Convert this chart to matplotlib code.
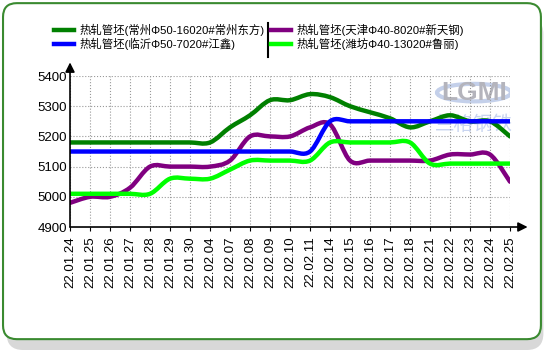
import matplotlib
matplotlib.use("Agg")
import matplotlib.pyplot as plt
from matplotlib.path import Path
from matplotlib.patches import PathPatch, FancyBboxPatch, Ellipse
from matplotlib.lines import Line2D

plt.rcParams['font.family'] = ['Liberation Sans', 'Noto Sans CJK SC', 'DejaVu Sans']

dates = ["22.01.24", "22.01.25", "22.01.26", "22.01.27", "22.01.28", "22.01.29",
         "22.01.30", "22.02.04", "22.02.07", "22.02.08", "22.02.09", "22.02.10",
         "22.02.11", "22.02.14", "22.02.15", "22.02.16", "22.02.17", "22.02.18",
         "22.02.21", "22.02.22", "22.02.23", "22.02.24", "22.02.25"]

changzhou = [5180, 5180, 5180, 5180, 5180, 5180, 5180, 5180, 5230, 5270, 5320, 5320,
             5340, 5330, 5300, 5280, 5260, 5230, 5250, 5270, 5250, 5250, 5200]
tianjin = [4980, 5000, 5000, 5030, 5100, 5100, 5100, 5100, 5120, 5200, 5200, 5200,
           5230, 5240, 5120, 5120, 5120, 5120, 5120, 5140, 5140, 5140, 5050]
linyi = [5150, 5150, 5150, 5150, 5150, 5150, 5150, 5150, 5150, 5150, 5150, 5150,
         5150, 5250, 5250, 5250, 5250, 5250, 5250, 5250, 5250, 5250, 5250]
weifang = [5010, 5010, 5010, 5010, 5010, 5060, 5060, 5060, 5090, 5120, 5120, 5120,
           5120, 5180, 5180, 5180, 5180, 5180, 5110, 5110, 5110, 5110, 5110]

labels = ["热轧管坯(常州Φ50-16020#常州东方)", "热轧管坯(临沂Φ50-7020#江鑫)",
          "热轧管坯(天津Φ40-8020#新天钢)", "热轧管坯(潍坊Φ40-13020#鲁丽)"]
colors = ["#008000", "#0000ff", "#800080", "#00ff00"]
yticks = [4900, 5000, 5100, 5200, 5300, 5400]


def smooth_path(ys):
    # catmull-rom through the points, drawn as cubic bezier segments
    n = len(ys)
    xs = list(range(n))
    verts = [(xs[0], ys[0])]
    codes = [Path.MOVETO]
    for i in range(n - 1):
        a = max(i - 1, 0)
        b = min(i + 2, n - 1)
        c1 = (xs[i] + (xs[i + 1] - xs[a]) / 6, ys[i] + (ys[i + 1] - ys[a]) / 6)
        c2 = (xs[i + 1] - (xs[b] - xs[i]) / 6, ys[i + 1] - (ys[b] - ys[i]) / 6)
        verts += [c1, c2, (xs[i + 1], ys[i + 1])]
        codes += [Path.CURVE4] * 3
    return Path(verts, codes)


fig = plt.figure(figsize=(5.5, 3.5), dpi=100)

# rounded frame with shadow
fig.add_artist(FancyBboxPatch((0.012, 0.0), 0.976, 0.95, boxstyle="round,pad=0,rounding_size=0.03",
                              transform=fig.transFigure, facecolor="#d8d8d8", edgecolor="none",
                              mutation_aspect=550 / 350, zorder=-3))
fig.add_artist(FancyBboxPatch((0.0055, 0.031), 0.978, 0.96, boxstyle="round,pad=0,rounding_size=0.025",
                              transform=fig.transFigure, facecolor="white", edgecolor="#3a8a30",
                              linewidth=1.5, mutation_aspect=550 / 350, zorder=-2))

ax = fig.add_axes([0.1273, 0.3514, 0.8, 0.4314])
ax.set_facecolor("none")
ax.set_xlim(0, len(dates) - 1)
ax.set_ylim(4900, 5400)

# watermark
ax.add_patch(Ellipse((20.2, 5345), 3.7, 58, facecolor="none", edgecolor="#c4d0ea", lw=3, zorder=0))
ax.text(20.2, 5345, "LGMI", ha="center", va="center", fontsize=19, fontweight="bold",
        color="#b4b4bc", zorder=0)
ax.text(20.2, 5240, "兰格钢铁", ha="center", va="center", fontsize=14, color="#c8d4f0", zorder=0)

series = [changzhou, linyi, tianjin, weifang]
order = [0, 2, 1, 3]
for k in order:
    ax.add_patch(PathPatch(smooth_path(series[k]), facecolor="none", edgecolor=colors[k],
                           lw=3.2, capstyle="round", joinstyle="round", zorder=3))

ax.set_xticks(range(len(dates)))
ax.set_xticklabels(dates, rotation=90, fontsize=9.5)
ax.set_yticks(yticks)
ax.set_yticklabels([str(v) for v in yticks], fontsize=9.5)
ax.tick_params(axis="x", length=3, pad=4, color="black")
ax.tick_params(axis="y", length=0, pad=2)
ax.grid(True, linestyle=":", color="#999999", linewidth=0.8)
for s in ax.spines.values():
    s.set_visible(False)

# axes with arrows
ax.annotate("", xy=(1.04, 0), xytext=(0, 0), xycoords="axes fraction",
            arrowprops=dict(arrowstyle="-|>", color="black", lw=1.2, mutation_scale=14,
                            shrinkA=0, shrinkB=0), annotation_clip=False, zorder=5)
ax.annotate("", xy=(0, 1.09), xytext=(0, 0), xycoords="axes fraction",
            arrowprops=dict(arrowstyle="-|>", color="black", lw=1.2, mutation_scale=14,
                            shrinkA=0, shrinkB=0), annotation_clip=False, zorder=5)

handles = [Line2D([], [], color=colors[k], lw=3.2) for k in range(4)]
fig.legend(handles, labels, ncol=2, loc="upper left", bbox_to_anchor=(0.079, 0.96),
           frameon=False, fontsize=8.2, handlelength=1.75, handletextpad=0.5,
           labelspacing=0.15, columnspacing=0.55)
fig.add_artist(Line2D([268 / 550, 268 / 550], [1 - 23 / 350, 1 - 57 / 350],
                      transform=fig.transFigure, color="black", lw=1.5))

fig.savefig("out.png", dpi=100)
